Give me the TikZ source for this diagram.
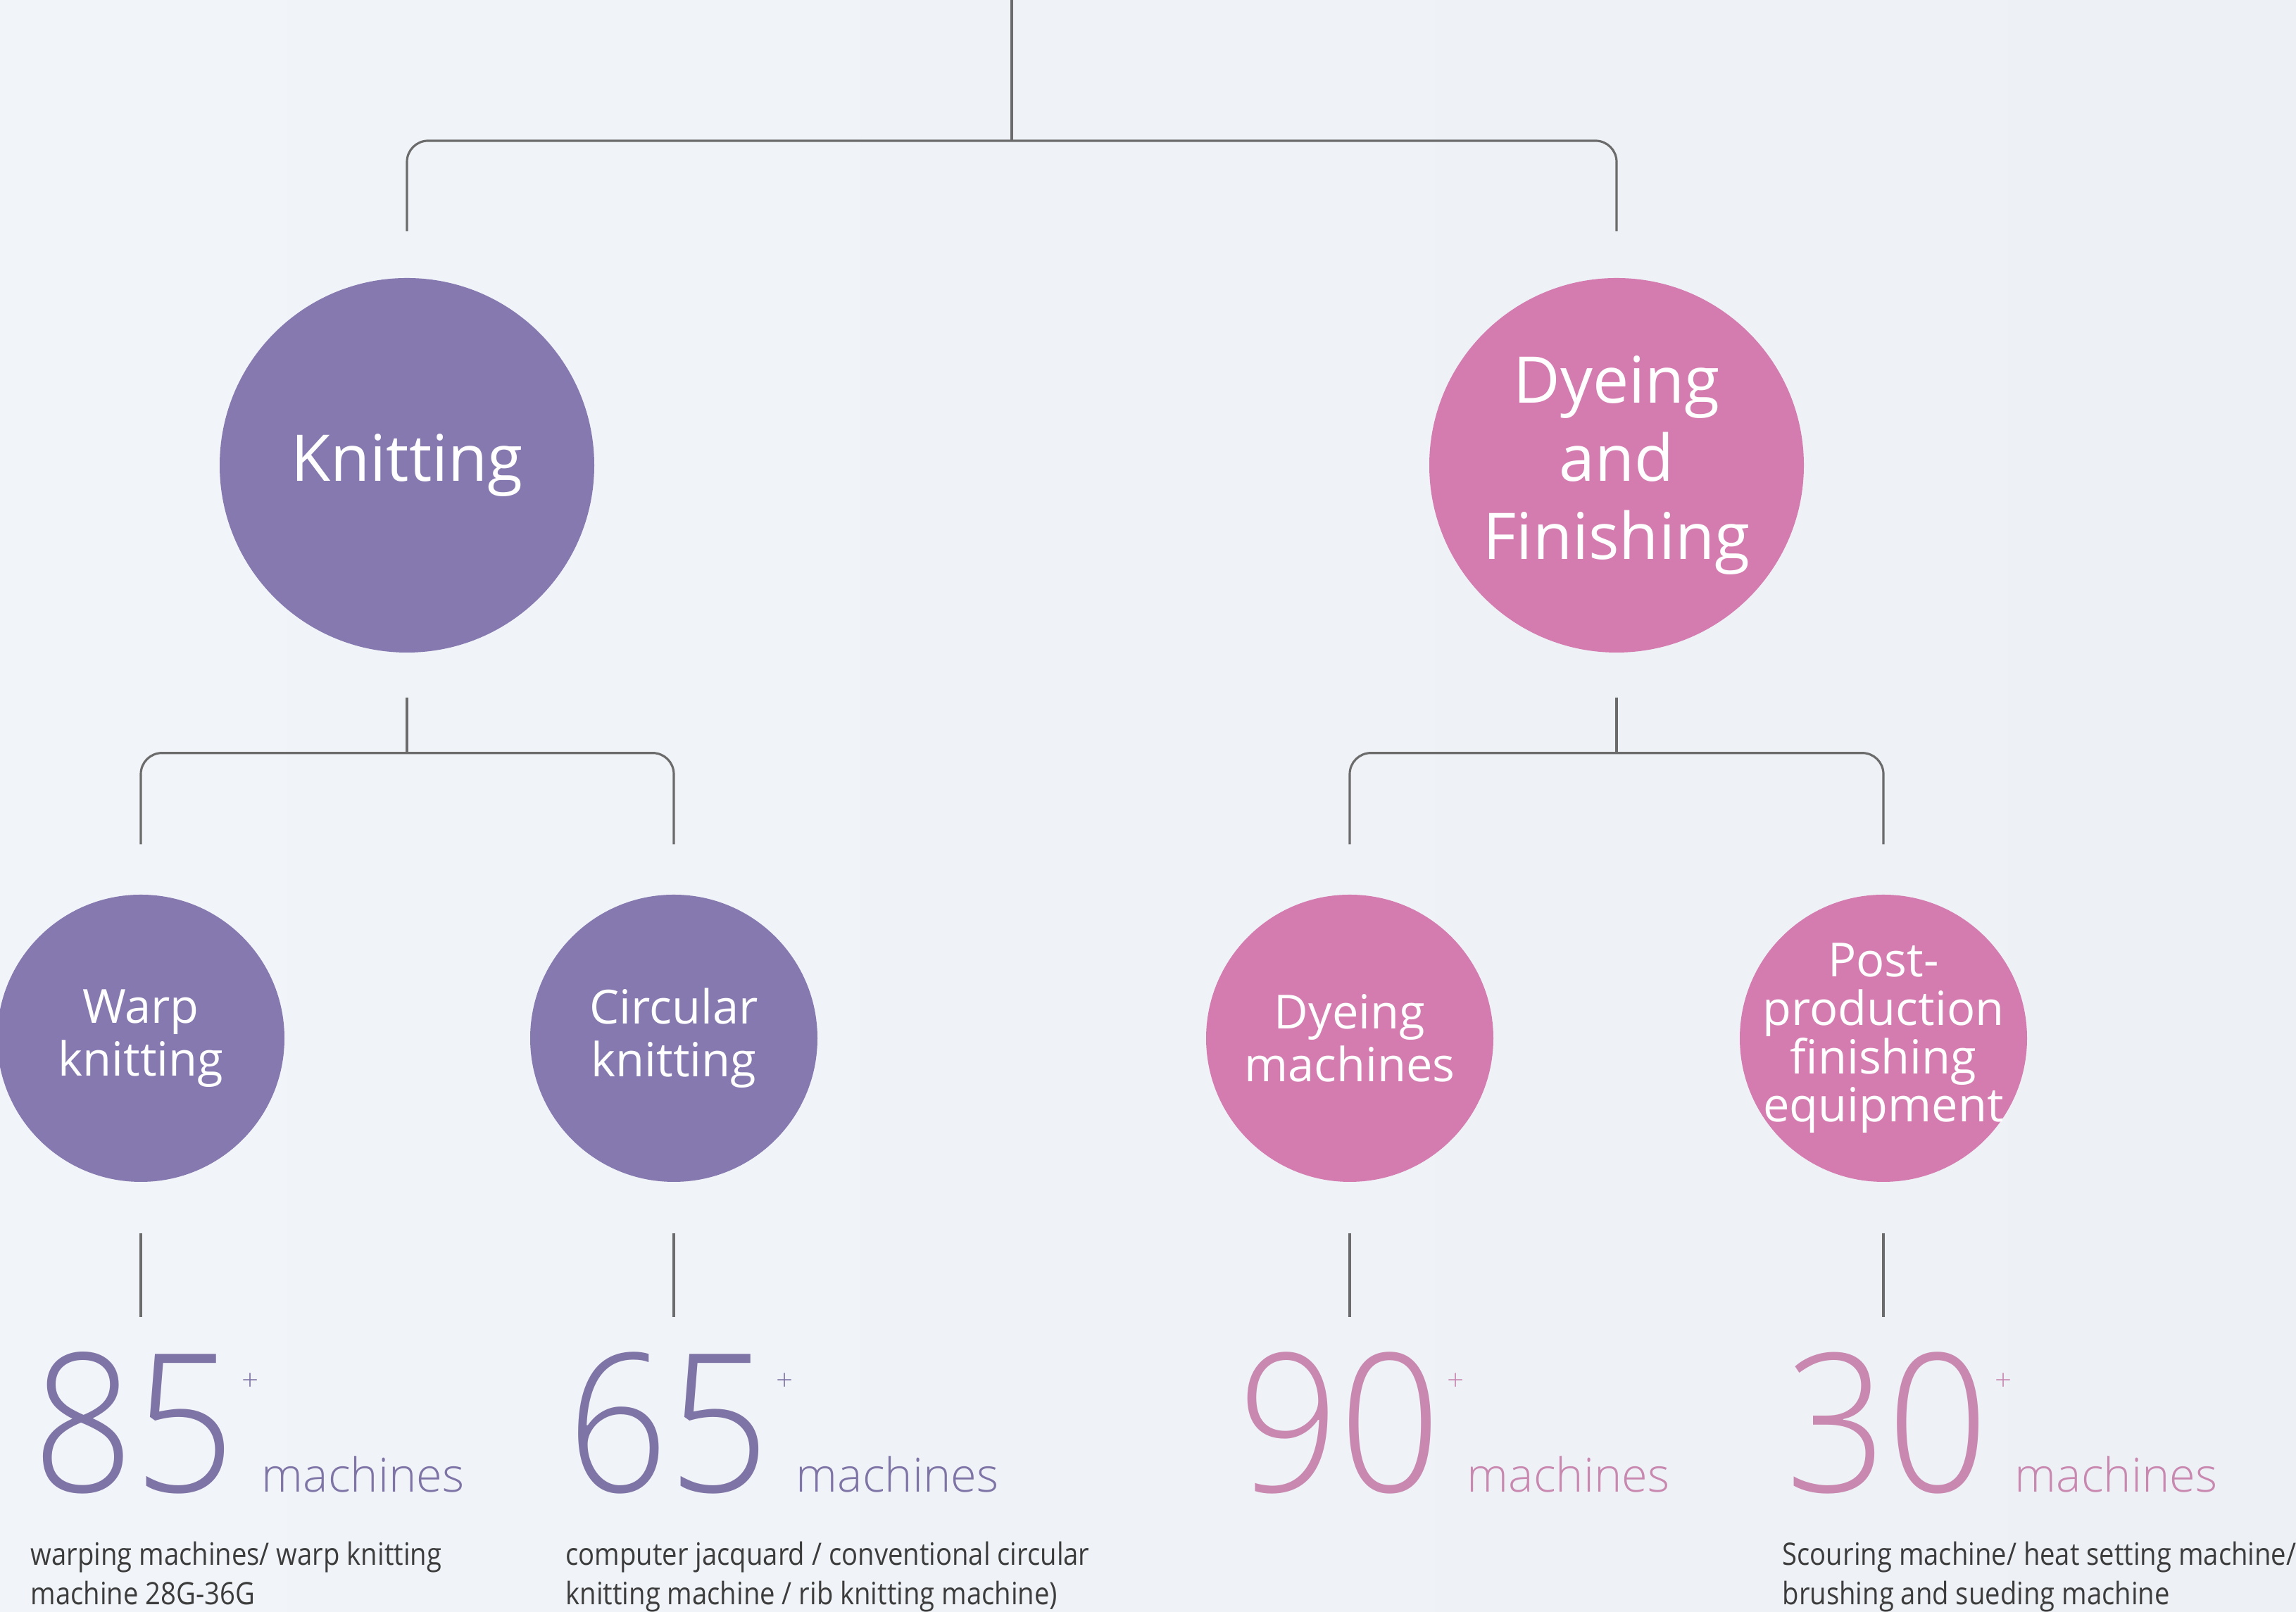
\documentclass[tikz,border=0pt]{standalone}
\usepackage{fontspec}
\setmainfont{Open Sans}
\IfFontExistsTF{Open Sans Light}{\newfontfamily\thinfont{Open Sans Light}
  \newfontfamily\numfont[FakeStretch=0.92]{Open Sans Light}}{\newfontfamily\thinfont{Open Sans}
  \newfontfamily\numfont[FakeStretch=0.92]{Open Sans}}
\newfontfamily\descfont[FakeStretch=0.87]{Open Sans}
\usepackage{xcolor}
\definecolor{knitpurple}{HTML}{8679B0}
\definecolor{dyepink}{HTML}{D47CAF}
\definecolor{knitnum}{HTML}{7F74A6}
\definecolor{dyenum}{HTML}{C888B0}
\definecolor{linegray}{HTML}{6B6B6B}
\definecolor{desctext}{HTML}{3C3C3C}
\definecolor{bgleft}{HTML}{F1F4F8}
\definecolor{bgmid}{HTML}{F6F8FB}
\definecolor{bgright}{HTML}{EDF1F6}
\tikzstyle{bigcircle} = [circle, text=white, minimum size=5.32cm, inner sep=0pt,
    align=center, font=\fontsize{26}{31.5}\selectfont]
\tikzstyle{smallcircle} = [circle, text=white, minimum size=4.08cm, inner sep=-5mm,
    align=center, font=\fontsize{19}{21.3}\selectfont]
\tikzstyle{conn} = [draw=linegray, line width=0.9pt, rounded corners=0.3cm]
\tikzstyle{bignum} = [inner sep=0pt, anchor=base east, font=\numfont\fontsize{78}{78}\selectfont]
\tikzstyle{plus} = [inner sep=0pt, font=\thinfont\fontsize{12}{12}\selectfont]
\tikzstyle{unit} = [inner sep=0pt, anchor=base west, font=\thinfont\fontsize{19}{19}\selectfont]
\tikzstyle{desc} = [inner sep=0pt, anchor=base west, align=left, text=desctext,
    font=\descfont\fontsize{12.5}{16}\selectfont]

\begin{document}
\begin{tikzpicture}
\shade[left color=bgleft, middle color=bgmid, right color=bgright] (0,0) rectangle (32.61,22.9);
\useasboundingbox (0,0) rectangle (32.61,22.9);

% first level
\node[bigcircle, fill=knitpurple] (knit) at (5.78,16.29) {Knitting};
\node[bigcircle, fill=dyepink] (dyef) at (22.96,16.29) {Dyeing\\and\\Finishing};

% second level
\node[smallcircle, fill=knitpurple] (warp) at (2.00,8.15) {Warp\\knitting};
\node[smallcircle, fill=knitpurple] (circ) at (9.57,8.15) {Circular\\knitting};
\node[smallcircle, fill=dyepink] (dyem) at (19.17,8.15) {Dyeing\\machines};
\begin{scope}
\clip (0,0) rectangle (28.80,22.9);
\node[smallcircle, fill=dyepink, font=\fontsize{19}{19.5}\selectfont] (post) at (26.75,8.15)
    {Post-\\production\\finishing\\equipment};
\end{scope}

% tree lines
\coordinate (root) at (14.37,22.9);
\coordinate (bar) at (14.37,20.9);
\draw[conn] (root) -- (bar);
\draw[conn] ([yshift=6.6mm]knit.north) |- (bar) -| ([yshift=6.6mm]dyef.north);

\draw[conn] ([yshift=-6.3mm]knit.south) -- ++(0,-0.79) coordinate (kbar);
\draw[conn] ([yshift=7.1mm]warp.north) |- (kbar) -| ([yshift=7.1mm]circ.north);
\draw[conn] ([yshift=-6.3mm]dyef.south) -- ++(0,-0.79) coordinate (dbar);
\draw[conn] ([yshift=7.1mm]dyem.north) |- (dbar) -| ([yshift=7.1mm]post.north);

\draw[conn] ([yshift=-7.2mm]warp.south) -- ++(0,-1.19);
\draw[conn] ([yshift=-7.2mm]circ.south) -- ++(0,-1.19);
\draw[conn] ([yshift=-7.2mm]dyem.south) -- ++(0,-1.19);
\draw[conn] ([yshift=-7.2mm]post.south) -- ++(0,-1.19);

% numbers
\node[bignum, text=knitnum] (n85) at (3.35,1.70) {85};
\node[plus, text=knitnum] (p85) at (3.56,3.27) {+};
\node[unit, text=knitnum] (m85) at (3.71,1.70) {machines};

\node[bignum, text=knitnum] (n65) at (10.94,1.70) {65};
\node[plus, text=knitnum] (p65) at (11.15,3.27) {+};
\node[unit, text=knitnum] (m65) at (11.30,1.70) {machines};

\node[bignum, text=dyenum] (n90) at (20.47,1.70) {90};
\node[plus, text=dyenum] (p90) at (20.68,3.27) {+};
\node[unit, text=dyenum] (m90) at (20.83,1.70) {machines};

\node[bignum, text=dyenum] (n30) at (28.25,1.70) {30};
\node[plus, text=dyenum] (p30) at (28.46,3.27) {+};
\node[unit, text=dyenum] (m30) at (28.61,1.70) {machines};

% descriptions
\node[desc] (d85) at (0.43,0.10) {warping machines/ warp knitting\\machine 28G-36G};
\node[desc] (d65) at (8.03,0.10) {computer jacquard / conventional circular\\knitting machine / rib knitting machine)};
\node[desc] (d30) at (25.31,0.10) {Scouring machine/ heat setting machine/\\brushing and sueding machine};
\end{tikzpicture}
\end{document}
